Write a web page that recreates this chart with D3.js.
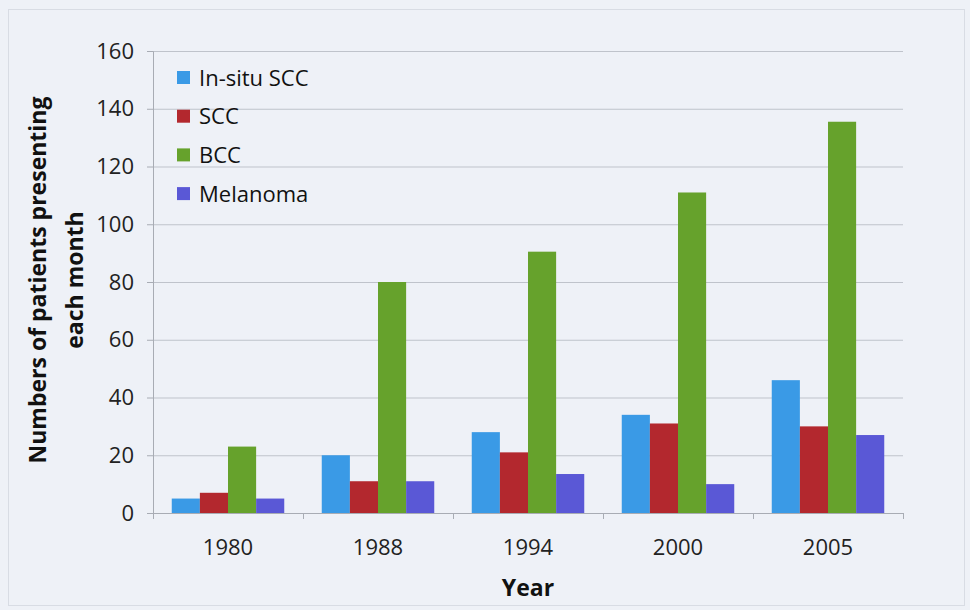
<!DOCTYPE html>
<html lang="en">
<head>
  <meta charset="UTF-8">
  <title>Patients presenting each month</title>
  <script src="https://d3js.org/d3.v7.min.js"></script>
  <style>
    body { margin: 0; background: #eef1f7; }
    svg { font-family: "Open Sans", sans-serif; }
    .tick text { font-family: "Open Sans", sans-serif; font-size: 22px; fill: #222; }
    .axis-title { font-size: 23px; font-weight: bold; fill: #111; }
    .legend text { font-size: 22px; fill: #111; }
  </style>
</head>
<body>
  <div id="chart"></div>
  <script>
    // Data
    const years   = ["1980", "1988", "1994", "2000", "2005"];
    const series  = ["In-situ SCC", "SCC", "BCC", "Melanoma"];
    const inSitu  = [5, 20, 28, 34, 46];
    const scc     = [7, 11, 21, 31, 30];
    const bcc     = [23, 80, 90.5, 111, 135.5];
    const melanoma = [5, 11, 13.5, 10, 27];
    const yTicks  = [0, 20, 40, 60, 80, 100, 120, 140, 160];

    const colors = ["#3a9ae6", "#b3282e", "#66a22c", "#5a58d6"];
    const values = [inSitu, scc, bcc, melanoma];

    const W = 970, H = 610;
    const margin = { top: 51, right: 67, bottom: 97, left: 153 };
    const width  = W - margin.left - margin.right,
          height = H - margin.top - margin.bottom;

    const svg = d3.select("#chart").append("svg")
      .attr("width", W).attr("height", H);

    // outer frame
    svg.append("rect")
      .attr("x", 8.5).attr("y", 9.5)
      .attr("width", W - 14).attr("height", H - 14)
      .attr("fill", "#eef1f7")
      .attr("stroke", "#d8dce4");

    const g = svg.append("g")
      .attr("transform", `translate(${margin.left},${margin.top})`);

    const x0 = d3.scaleBand().domain(years).range([0, width]).paddingInner(0.25).paddingOuter(0.125);
    const x1 = d3.scaleBand().domain(series).range([0, x0.bandwidth()]);
    const y  = d3.scaleLinear().domain([0, 160]).range([height, 0]);

    // gridlines
    g.append("g")
      .selectAll("line")
      .data(yTicks.slice(1))
      .join("line")
      .attr("x1", 0).attr("x2", width)
      .attr("y1", d => y(d) + 0.5).attr("y2", d => y(d) + 0.5)
      .attr("stroke", "#bfc3cb");

    // y axis
    const yAxis = g.append("g")
      .call(d3.axisLeft(y).tickValues(yTicks).tickSize(6).tickPadding(13));
    yAxis.select(".domain").attr("stroke", "#a8acb4");
    yAxis.selectAll(".tick line").attr("stroke", "#a8acb4");

    // x axis: ticks at category boundaries
    const xAxis = g.append("g")
      .attr("transform", `translate(0,${height})`)
      .call(d3.axisBottom(x0).tickSize(0).tickPadding(26));
    xAxis.select(".domain").attr("stroke", "#a8acb4");
    const step = x0.step();
    xAxis.selectAll(".sep")
      .data(d3.range(years.length + 1))
      .join("line")
      .attr("x1", i => i * step + 0.5).attr("x2", i => i * step + 0.5)
      .attr("y1", 0).attr("y2", 6)
      .attr("stroke", "#a8acb4");

    // bars
    const groups = g.append("g")
      .selectAll("g")
      .data(years)
      .join("g")
      .attr("transform", d => `translate(${x0(d)},0)`);

    groups.selectAll("rect")
      .data((d, i) => series.map((s, k) => ({ s, k, v: values[k][i] })))
      .join("rect")
      .attr("x", d => x1(d.s))
      .attr("width", x1.bandwidth())
      .attr("y", d => y(d.v))
      .attr("height", d => height - y(d.v))
      .attr("fill", d => colors[d.k]);

    // legend
    const legend = g.append("g").attr("class", "legend")
      .attr("transform", "translate(24,27)");
    const item = legend.selectAll("g")
      .data(series)
      .join("g")
      .attr("transform", (d, i) => `translate(0,${i * 38.7})`);
    item.append("rect")
      .attr("x", 0).attr("y", -7).attr("width", 13).attr("height", 13)
      .attr("fill", (d, i) => colors[i]);
    item.append("text")
      .attr("x", 22).attr("y", 0).attr("dy", "0.35em")
      .text(d => d);

    // axis titles
    const yTitle = svg.append("text")
      .attr("class", "axis-title")
      .attr("transform", "translate(56,280) rotate(-90)")
      .attr("text-anchor", "middle");
    yTitle.append("tspan").attr("x", 0).attr("y", -10).text("Numbers of patients presenting");
    yTitle.append("tspan").attr("x", 0).attr("y", 27).text("each month");

    svg.append("text")
      .attr("class", "axis-title")
      .attr("x", margin.left + width / 2)
      .attr("y", 596)
      .attr("text-anchor", "middle")
      .text("Year");
  </script>
</body>
</html>
